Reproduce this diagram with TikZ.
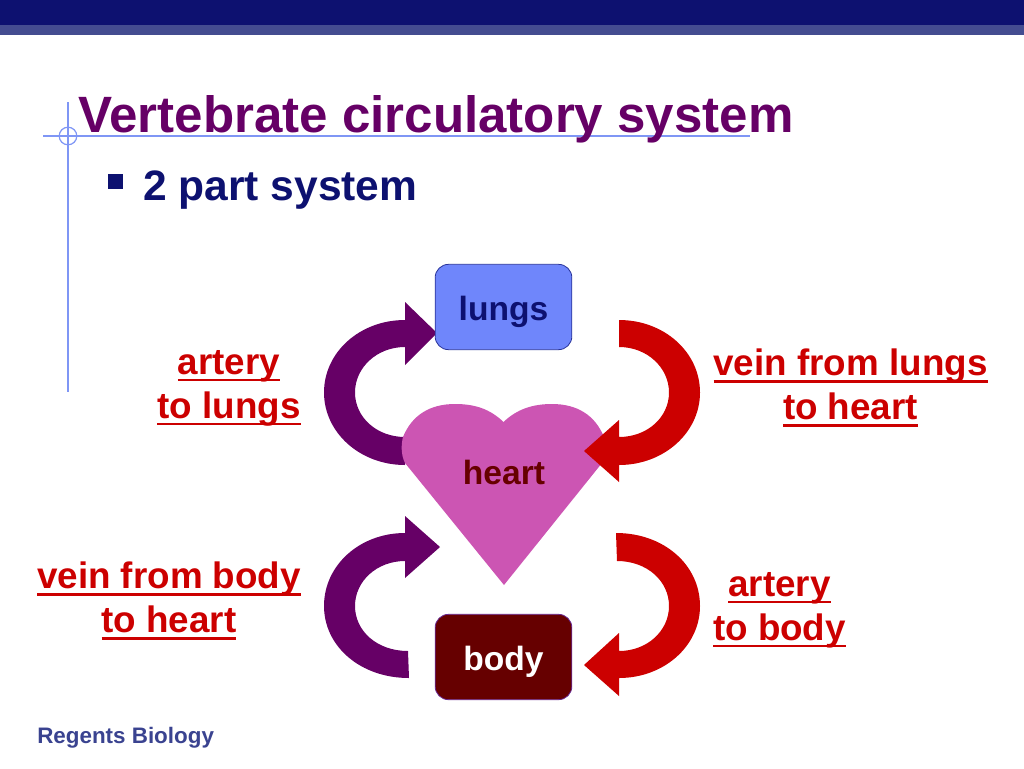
\documentclass[tikz,border=0pt]{standalone}
\usepackage{fontspec}
\setmainfont{Liberation Sans}
\definecolor{navy}{HTML}{0D1170}
\definecolor{band}{HTML}{444C90}
\definecolor{guide}{HTML}{7F96F5}
\definecolor{plum}{HTML}{660066}
\definecolor{redarrow}{HTML}{CC0000}
\definecolor{maroon}{HTML}{660000}
\definecolor{lungblue}{HTML}{6F86FB}
\definecolor{heartpink}{HTML}{CC55B3}
\definecolor{footer}{HTML}{3A4390}
\newcommand{\ulx}[1]{\leavevmode\setbox0\hbox{#1}\rlap{\rule[-5.3pt]{\wd0}{2pt}}\box0}
\tikzset{
  boxnode/.style={rounded corners=10pt,draw,line width=0.6pt,minimum width=102.5pt,minimum height=64pt,inner sep=0pt},
  boxtext/.style={inner sep=0pt,anchor=base,font=\fontsize{25.2}{28}\selectfont\bfseries},
  redlabel/.style={text=redarrow,align=center,inner sep=0pt,font=\fontsize{27.6}{33}\selectfont\bfseries},
  guideline/.style={guide,line width=0.9pt}
}
\begin{document}
\begin{tikzpicture}[x=0.75pt,y=-0.75pt]
\useasboundingbox (0,0) rectangle (1024,768);
\fill[navy] (0,0) rectangle (1024,25);
\fill[band] (0,25) rectangle (1024,35);
\draw[guideline] (43,136) -- (750,136);
\draw[guideline] (68,102) -- (68,392);
\draw[guideline] (68,136) circle[radius=6.6pt];
\node[anchor=base west,inner sep=0pt,text=plum,font=\fontsize{38.3}{42}\selectfont\bfseries] (title) at (78,132) {Vertebrate circulatory system};
\fill[navy] (108,174) rectangle (123,189);
\node[anchor=base west,inner sep=0pt,text=navy,font=\fontsize{31.9}{36}\selectfont\bfseries] (sub) at (143,200) {2 part system};
% arrows
\fill[plum] (405,465) .. controls (360,465) and (324,432.5) .. (324,392.5) .. controls (324,352) and (360,320) .. (405,320) -- (405,302) -- (437,333) -- (405,365) -- (405,347) .. controls (377,347) and (355,367.5) .. (355,392.5) .. controls (355,417.5) and (377,437) .. (405,437) -- cycle;
\fill[plum] (409,678) .. controls (360,678) and (324,646) .. (324,606) .. controls (324,565) and (360,533) .. (405,533) -- (405,516) -- (440,547) -- (405,578) -- (405,561) .. controls (377,561) and (355,581) .. (355,606) .. controls (355,631) and (377,651) .. (408,651) -- cycle;
% heart
\fill[heartpink] (504,585) -- (405,463) .. controls (401,455) and (401,445) .. (403,437) .. controls (412,415) and (430,404) .. (455,404) .. controls (475,404) and (490,409) .. (503.5,422) .. controls (517,409) and (533,404) .. (552,404) .. controls (577,404) and (595,415) .. (604,437) .. controls (606,445) and (606,455) .. (602,463) -- cycle;
\node[boxtext,text=maroon] (heart) at (504,484) {heart};
\fill[redarrow] (619,320) .. controls (664,320) and (700,352) .. (700,392.5) .. controls (700,432.5) and (664,465) .. (619,465) -- (619,482) -- (584,451) -- (619,420) -- (619,437) .. controls (647,437) and (669,417.5) .. (669,392.5) .. controls (669,367.5) and (647,347) .. (619,347) -- cycle;
\fill[redarrow] (616,533) .. controls (664,533) and (700,565) .. (700,606) .. controls (700,646) and (664,678) .. (619,678) -- (619,696) -- (584,665) -- (619,633) -- (619,651) .. controls (647,651) and (669,631) .. (669,606) .. controls (669,581) and (647,561) .. (617,561) -- cycle;
% boxes
\node[boxnode,fill=lungblue,draw=navy!70!lungblue] (lungs) at (503.5,307) {};
\node[boxtext,text=navy] (lungstext) at (503.5,320) {lungs};
\node[boxnode,fill=maroon,draw=plum!70!lungblue] (body) at (503.5,657) {};
\node[boxtext,text=white] (bodytext) at (503.5,670) {body};
% labels
\node[redlabel] (a1) at (229,388) {\ulx{artery}\\\ulx{to lungs}};
\node[redlabel] (a2) at (850.5,388) {\ulx{vein from lungs}\\\ulx{to heart}};
\node[redlabel] (a3) at (169,601) {\ulx{vein from body}\\\ulx{to heart}};
\node[redlabel] (a4) at (779.5,610) {\ulx{artery}\\\ulx{to body}};
\node[anchor=base west,inner sep=0pt,text=footer,font=\fontsize{16.8}{19}\selectfont\bfseries] (foot) at (37,743) {Regents Biology};
\end{tikzpicture}
\end{document}
